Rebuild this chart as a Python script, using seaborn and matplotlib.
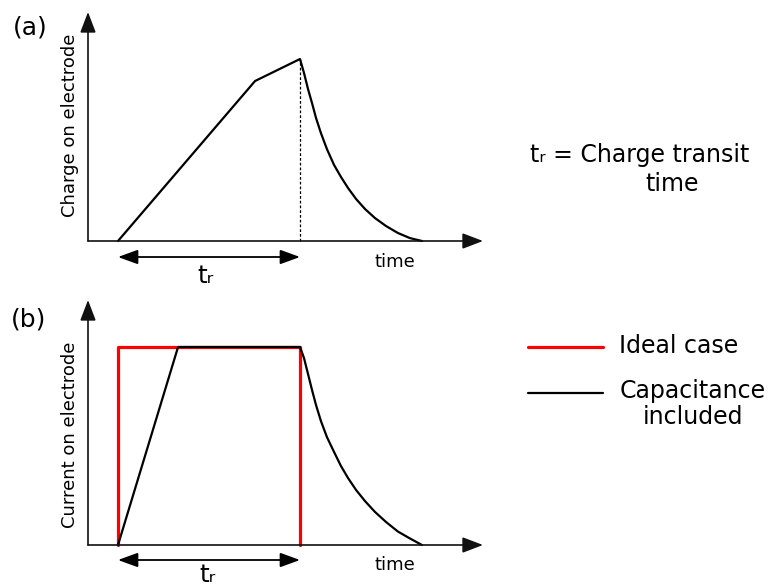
import matplotlib
matplotlib.use("Agg")
import matplotlib.pyplot as plt
import pandas as pd
import seaborn as sns
from matplotlib.lines import Line2D

# Time is measured in units of the charge transit time t_r.
# (a) charge on the electrode
charge_t = [0.0, 0.753, 1.0, 1.022, 1.044, 1.066, 1.088, 1.115, 1.148, 1.187,
            1.225, 1.264, 1.308, 1.357, 1.412, 1.473, 1.538, 1.604, 1.670]
charge_q = [0.0, 0.879, 1.0, 0.923, 0.835, 0.758, 0.676, 0.593, 0.505, 0.418,
            0.352, 0.291, 0.231, 0.176, 0.126, 0.082, 0.044, 0.016, 0.0]

# (b) current on the electrode
ideal_t = [0.0, 0.0, 1.0, 1.0]
ideal_i = [0.0, 1.0, 1.0, 0.0]
cap_t = [0.0, 0.33, 1.0, 1.022, 1.044, 1.066, 1.088, 1.115, 1.148, 1.187,
         1.225, 1.264, 1.308, 1.357, 1.412, 1.473, 1.538, 1.604, 1.670]
cap_i = [0.0, 1.0, 1.0, 0.944, 0.864, 0.783, 0.707, 0.626, 0.545, 0.470,
         0.399, 0.338, 0.278, 0.222, 0.167, 0.116, 0.068, 0.033, 0.0]

series_labels = ["Ideal case", "Capacitance\nincluded"]
series_colors = ["#ff0000", "#000000"]

sns.set_theme(style="white")
plt.rcParams["font.family"] = ["DejaVu Sans"]
plt.rcParams["text.color"] = "black"

W, H = 771, 587
fig = plt.figure(figsize=(W / 100, H / 100), dpi=100)


def fx(px):
    return px / W


def fy(py):
    return 1 - py / H


ax_a = fig.add_axes([fx(88), fy(241), (483 - 88) / W, (241 - 12) / H])
ax_a.set_xlim(-30 / 182, 365 / 182)
ax_a.set_ylim(0, 229 / 182)

ax_b = fig.add_axes([fx(88), fy(545), (483 - 88) / W, (545 - 300) / H])
ax_b.set_xlim(-30 / 182, 365 / 182)
ax_b.set_ylim(0, 245 / 198)

for ax in (ax_a, ax_b):
    ax.axis("off")

df_a = pd.DataFrame({"t": charge_t, "q": charge_q})
sns.lineplot(data=df_a, x="t", y="q", sort=False, estimator=None,
             color="black", lw=1.6, ax=ax_a)

df_ideal = pd.DataFrame({"t": ideal_t, "i": ideal_i})
df_cap = pd.DataFrame({"t": cap_t, "i": cap_i})
sns.lineplot(data=df_ideal, x="t", y="i", sort=False, estimator=None,
             color=series_colors[0], lw=2.3, ax=ax_b)
sns.lineplot(data=df_cap, x="t", y="i", sort=False, estimator=None,
             color=series_colors[1], lw=1.6, ax=ax_b)

for ax in (ax_a, ax_b):
    for ln in ax.lines:
        ln.set_clip_on(False)
        ln.set_solid_joinstyle("round")

# dashed drop line from the charge maximum
peak = charge_q.index(max(charge_q))
ax_a.vlines(charge_t[peak], 0, charge_q[peak], colors="black", lw=0.9,
            linestyles=(0, (2.2, 1.6)), clip_on=False)


def axis_arrows(ax):
    x0, x1 = ax.get_xlim()
    y0, y1 = ax.get_ylim()
    props = dict(arrowstyle="-|>,head_length=0.42,head_width=0.16",
                 mutation_scale=30, lw=1.2, color="#111111",
                 shrinkA=0, shrinkB=0)
    ax.annotate("", xy=(x1, 0), xytext=(x0, 0), arrowprops=props,
                annotation_clip=False)
    ax.annotate("", xy=(x0, y1), xytext=(x0, 0), arrowprops=props,
                annotation_clip=False)


def transit_arrow(ax, y):
    props = dict(arrowstyle="<|-|>,head_length=0.55,head_width=0.2",
                 mutation_scale=22, lw=1.3, color="black",
                 shrinkA=0, shrinkB=0)
    ax.annotate("", xy=(1.0, y), xytext=(0.0, y), arrowprops=props,
                annotation_clip=False)


axis_arrows(ax_a)
axis_arrows(ax_b)
transit_arrow(ax_a, -16 / 182)
transit_arrow(ax_b, -15 / 198)

tr = "t\u1d63"

fig.text(fx(30), fy(27), "(a)", fontsize=18, ha="center", va="center")
fig.text(fx(29), fy(319), "(b)", fontsize=18, ha="center", va="center")

fig.text(fx(70), fy(125), "Charge on electrode", fontsize=13, rotation=90,
         ha="center", va="center")
fig.text(fx(70), fy(435), "Current on electrode", fontsize=13, rotation=90,
         ha="center", va="center")

fig.text(fx(395), fy(267), "time", fontsize=13, ha="center", va="baseline")
fig.text(fx(395), fy(570), "time", fontsize=13, ha="center", va="baseline")

fig.text(fx(206), fy(283), tr, fontsize=18, ha="center", va="baseline")
fig.text(fx(207), fy(582), tr, fontsize=18, ha="center", va="baseline")

fig.text(fx(530), fy(162), tr + " = Charge transit", fontsize=17,
         ha="left", va="baseline")
fig.text(fx(672), fy(191), "time", fontsize=17, ha="center", va="baseline")

# legend for panel (b)
fig.add_artist(Line2D([fx(528), fx(603)], [fy(347), fy(347)],
                      color=series_colors[0], lw=2.3))
fig.add_artist(Line2D([fx(528), fx(603)], [fy(393), fy(393)],
                      color=series_colors[1], lw=1.6))
fig.text(fx(619), fy(346), series_labels[0], fontsize=17, ha="left",
         va="center")
fig.text(fx(693), fy(404), series_labels[1], fontsize=17, ha="center",
         va="center", multialignment="center", linespacing=1.15)

fig.savefig("out.png", dpi=100)
